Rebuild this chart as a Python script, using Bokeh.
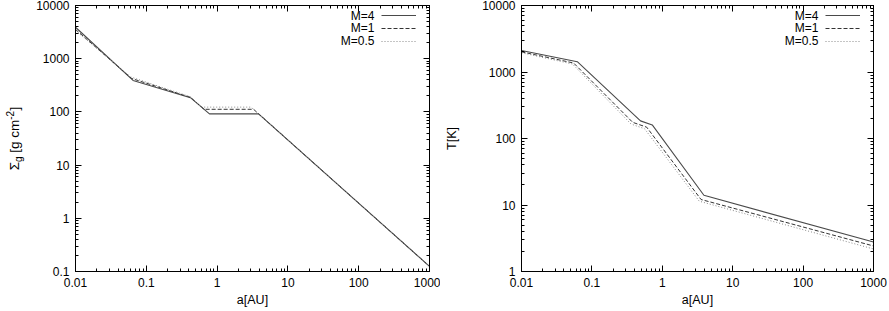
import math
from bokeh.plotting import figure
from bokeh.layouts import row
from bokeh.models import (Range1d, LogAxis, FixedTicker, CustomJSTickFormatter,
                          Label, Legend, LegendItem)
from bokeh.embed import file_html
from bokeh.resources import INLINE

# ---------------- data ----------------
series_names = ["M=4", "M=1", "M=0.5"]

# surface density Sigma_g [g cm^-2] vs a [AU]
sig_a_m4 = [0.01, 0.065, 0.42, 0.78, 3.85, 1000]
sig_m4 = [3900, 390, 185, 92, 92, 0.125]
sig_a_m1 = [0.01, 0.062, 0.42, 0.655, 3.27, 1000]
sig_m1 = [3550, 425, 188, 112, 112, 0.125]
sig_a_m05 = [0.01, 0.06, 0.42, 0.60, 3.01, 1000]
sig_m05 = [3400, 455, 192, 123, 123, 0.125]

# temperature T [K] vs a [AU]
t_a_m4 = [0.01, 0.062, 0.49, 0.72, 3.9, 1000]
t_m4 = [2100, 1430, 184, 160, 14.0, 2.77]
t_a_m1 = [0.01, 0.055, 0.38, 0.60, 3.55, 1000]
t_m1 = [2010, 1365, 175, 148, 12.1, 2.42]
t_a_m05 = [0.01, 0.053, 0.36, 0.56, 3.35, 1000]
t_m05 = [1950, 1318, 165, 140, 11.4, 2.18]

x_ticks = [0.01, 0.1, 1, 10, 100, 1000]
sig_ticks = [0.1, 1, 10, 100, 1000, 10000]
t_ticks = [1, 10, 100, 1000, 10000]

# ---------------- styling ----------------
FONT = "Liberation Sans"
TICK_FS = "12px"
LAB_FS = "12.5px"
FH = 266
BT, BB = 5, 40
STYLES = [dict(line_color="#4a4a4a", line_width=1.1, line_dash="solid"),
          dict(line_color="#333333", line_width=1.0, line_dash="4 2"),
          dict(line_color="#8a8a8a", line_width=1.0, line_dash="1 2")]


def minor_of(ticks):
    out = []
    for t in ticks[:-1]:
        out += [m * t for m in range(2, 10)]
    return out


def base_axis(ax):
    ax.major_tick_out = 0
    ax.minor_tick_out = 0
    ax.axis_line_color = "black"
    ax.major_tick_line_color = "black"
    ax.minor_tick_line_color = "black"
    ax.major_label_text_font = FONT
    ax.major_label_text_color = "black"
    ax.axis_label_text_font = FONT
    ax.axis_label_text_font_size = LAB_FS
    ax.axis_label_text_font_style = "normal"
    ax.axis_label_text_color = "black"


def style_axis(ax, ticks):
    base_axis(ax)
    ax.ticker = FixedTicker(ticks=ticks, minor_ticks=minor_of(ticks))
    ax.formatter = CustomJSTickFormatter(code="return String(Number(tick.toPrecision(6)))")
    ax.major_tick_in = 6
    ax.minor_tick_in = 3
    ax.major_label_text_font_size = TICK_FS
    ax.major_label_standoff = 6


def mirror_axes(p, ticks, side):
    # mirrored ticks without labels: long ticks at decades, short ticks between
    for pos, length in ((ticks, 6), (minor_of(ticks), 3)):
        ax = LogAxis()
        base_axis(ax)
        ax.ticker = FixedTicker(ticks=[], minor_ticks=pos)
        ax.minor_tick_in = length
        ax.major_tick_in = 0
        ax.major_label_standoff = 0
        p.add_layout(ax, side)


def make_panel(xs_list, ys_list, y_ticks, fw, bl, br):
    p = figure(x_axis_type="log", y_axis_type="log",
               frame_width=fw, frame_height=FH,
               x_range=Range1d(x_ticks[0], x_ticks[-1]),
               y_range=Range1d(y_ticks[0], y_ticks[-1]),
               min_border_left=bl, min_border_right=br,
               min_border_top=BT, min_border_bottom=BB,
               output_backend="svg", toolbar_location=None)
    p.grid.visible = False
    p.outline_line_color = "black"
    p.outline_line_width = 1
    p.background_fill_color = "white"
    p.border_fill_color = "white"
    style_axis(p.xaxis[0], x_ticks)
    style_axis(p.yaxis[0], y_ticks)
    p.xaxis[0].axis_label = "a[AU]"
    p.xaxis[0].axis_label_standoff = 3
    mirror_axes(p, x_ticks, "above")
    mirror_axes(p, y_ticks, "right")

    rends = []
    for xs, ys, st in zip(xs_list, ys_list, STYLES):
        rends.append(p.line(xs, ys, **st))

    items = [LegendItem(label="", renderers=[r]) for r in rends]
    leg = Legend(items=items, location="top_right", margin=4, padding=0, spacing=1,
                 glyph_width=35, glyph_height=12, label_width=0, label_height=0,
                 label_standoff=9, border_line_alpha=0, background_fill_alpha=0)
    p.add_layout(leg)
    for i, name in enumerate(series_names):
        p.add_layout(Label(x=fw - 55, y=FH - 10 - 12.5 * i, x_units="screen", y_units="screen",
                           text=name, text_align="right", text_baseline="middle",
                           text_font=FONT, text_font_size=TICK_FS, text_color="black"))
    return p


p1 = make_panel([sig_a_m4, sig_a_m1, sig_a_m05], [sig_m4, sig_m1, sig_m05],
                sig_ticks, 354, 49, 11)
p2 = make_panel([t_a_m4, t_a_m1, t_a_m05], [t_m4, t_m1, t_m05],
                t_ticks, 352, 81, 16)
p2.yaxis[0].axis_label = "T[K]"
p2.yaxis[0].axis_label_standoff = 20

# narrow panel holding the rotated label Sigma_g [g cm^-2] (sub/superscripts)
LW = 26
plab = figure(frame_width=LW, frame_height=FH, min_border_left=0, min_border_right=0,
              min_border_top=BT, min_border_bottom=BB,
              x_range=Range1d(0, 1), y_range=Range1d(0, 1),
              x_axis_location=None, y_axis_location=None,
              output_backend="svg", toolbar_location=None)
plab.grid.visible = False
plab.outline_line_color = None
big = 13.5
small = 10.0
# (text, font size, perpendicular shift, advance in em, extra gap after)
pieces = [("Σ", big, 0, 0.62, 0), ("g", small, 3.5, 0.556, 3.6),
          ("[g cm", big, 0, 2.445, 0), ("-2", small, -4.5, 0.889, 0.5),
          ("]", big, 0, 0.278, 0)]
total = sum(fs * w + g for _, fs, _, w, g in pieces)
y0 = FH / 2 - total / 2
xc = 14
for txt, fs, dx, w, g in pieces:
    plab.add_layout(Label(x=xc + dx, y=y0, x_units="screen", y_units="screen",
                          text=txt, angle=math.pi / 2, text_align="left",
                          text_baseline="middle", text_font=FONT,
                          text_font_size=f"{fs}px", text_color="black"))
    y0 += fs * w + g

layout = row(plab, p1, p2, spacing=0)
open("out.html", "w").write(file_html(layout, INLINE))
